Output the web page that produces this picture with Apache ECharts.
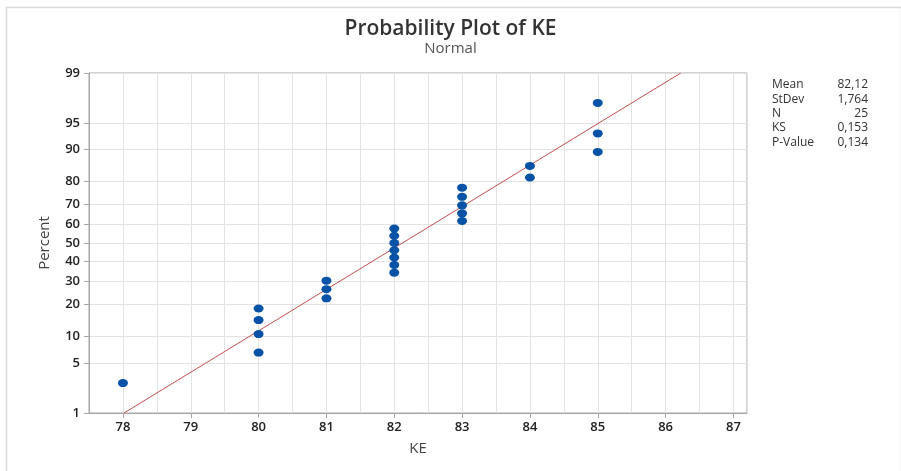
<!DOCTYPE html>
<html lang="en">
<head>
    <meta charset="UTF-8">
    <title>Probability Plot of KE</title>
    <script type="text/javascript" src="https://cdn.jsdelivr.net/npm/echarts@6.0.0/dist/echarts.min.js"></script>
    <style>
        html, body { margin: 0; padding: 0; background: #fff; }
    </style>
</head>
<body>
<div id="main" style="width:901px;height:471px;"></div>
</body>

<script>
    // KE readings, sorted, and their plotting positions (percent)
    const keValues = [78, 80, 80, 80, 80, 81, 81, 81, 82, 82, 82, 82, 82, 82, 82,
        83, 83, 83, 83, 83, 84, 84, 85, 85, 85];
    const percentValues = [2.76, 6.69, 10.63, 14.57, 18.50, 22.44, 26.38, 30.31, 34.25,
        38.19, 42.13, 46.06, 50.00, 53.94, 57.87, 61.81, 65.75, 69.69, 73.62, 77.56,
        81.50, 85.43, 89.37, 93.31, 97.24];
    const percentTicks = [1, 5, 10, 20, 30, 40, 50, 60, 70, 80, 90, 95, 99];
    const keTicks = [78, 79, 80, 81, 82, 83, 84, 85, 86, 87];
    const statNames = ['Mean', 'StDev', 'N', 'KS', 'P-Value'];
    const statValues = ['82,12', '1,764', '25', '0,153', '0,134'];
    const fitMean = 82.12;
    const fitSd = 1.764;

    // inverse normal cdf (Acklam) - used as the y scale
    function normInv(p) {
        const a = [-3.969683028665376e+01, 2.209460984245205e+02, -2.759285104469687e+02, 1.383577518672690e+02, -3.066479806614716e+01, 2.506628277459239e+00];
        const b = [-5.447609879822406e+01, 1.615858368580409e+02, -1.556989798598866e+02, 6.680131188771972e+01, -1.328068155288572e+01];
        const c = [-7.784894002430293e-03, -3.223964580411365e-01, -2.400758277161838e+00, -2.549732539343734e+00, 4.374664141464968e+00, 2.938163982698783e+00];
        const d = [7.784695709041462e-03, 3.224671290700398e-01, 2.445134137142996e+00, 3.754408661907416e+00];
        const pl = 0.02425;
        let q, r;
        if (p < pl) {
            q = Math.sqrt(-2 * Math.log(p));
            return (((((c[0] * q + c[1]) * q + c[2]) * q + c[3]) * q + c[4]) * q + c[5]) /
                ((((d[0] * q + d[1]) * q + d[2]) * q + d[3]) * q + 1);
        }
        if (p > 1 - pl) {
            q = Math.sqrt(-2 * Math.log(1 - p));
            return -(((((c[0] * q + c[1]) * q + c[2]) * q + c[3]) * q + c[4]) * q + c[5]) /
                ((((d[0] * q + d[1]) * q + d[2]) * q + d[3]) * q + 1);
        }
        q = p - 0.5;
        r = q * q;
        return (((((a[0] * r + a[1]) * r + a[2]) * r + a[3]) * r + a[4]) * r + a[5]) * q /
            (((((b[0] * r + b[1]) * r + b[2]) * r + b[3]) * r + b[4]) * r + 1);
    }

    const zTicks = percentTicks.map(p => normInv(p / 100));
    const zMin = zTicks[0];
    const zMax = zTicks[zTicks.length - 1];
    const points = keValues.map((v, i) => [v, normInv(percentValues[i] / 100)]);
    const fitLine = [[fitMean + fitSd * zMin, zMin], [fitMean + fitSd * zMax, zMax]];

    function percentLabel(z) {
        let best = 0;
        zTicks.forEach((t, i) => { if (Math.abs(t - z) < Math.abs(zTicks[best] - z)) best = i; });
        return String(percentTicks[best]);
    }

    const font = '"Open Sans", "Noto Sans", sans-serif';
    const myChart = echarts.init(document.getElementById('main'));

    const statText = [];
    statNames.forEach((n, i) => {
        statText.push({
            type: 'text', left: 772, top: 79 + i * 14.3,
            style: { text: n, font: '12px ' + font, fill: '#333' }
        });
        statText.push({
            type: 'text', right: 33, top: 79 + i * 14.3,
            style: { text: statValues[i], font: '12px ' + font, fill: '#333', textAlign: 'right' }
        });
    });

    const option = {
        animation: false,
        backgroundColor: '#fff',
        title: {
            text: 'Probability Plot of KE',
            subtext: 'Normal',
            left: 'center',
            top: 14,
            itemGap: 1,
            textStyle: { fontFamily: font, fontSize: 21, fontWeight: 600, color: '#333' },
            subtextStyle: { fontFamily: font, fontSize: 15, color: '#555' }
        },
        graphic: [
            {
                type: 'rect', left: 4, top: 5,
                shape: { width: 895, height: 480 },
                style: { fill: 'none', stroke: '#d9d9d9', lineWidth: 1.5 }
            }
        ].concat(statText),
        grid: {
            left: 89, right: 154, top: 73, bottom: 58,
            show: true, borderColor: '#a6a6a6', borderWidth: 1, backgroundColor: 'transparent'
        },
        xAxis: [
            {
                type: 'value', min: 77.5, max: 87.2, interval: 0.5,
                name: 'KE', nameLocation: 'middle', nameGap: 28,
                nameTextStyle: { fontFamily: font, fontSize: 15, color: '#444' },
                axisLine: { show: true, onZero: false, lineStyle: { color: '#a6a6a6' } },
                axisTick: { show: false },
                axisLabel: {
                    fontFamily: font, fontSize: 13, fontWeight: 600, color: '#222', margin: 8,
                    formatter: v => (Math.abs(v - Math.round(v)) < 1e-6 ? String(Math.round(v)) : '')
                },
                splitLine: { show: true, lineStyle: { color: '#e3e3e3' } }
            },
            {
                type: 'value', min: 77.5, max: 87.2, position: 'bottom',
                axisLine: { show: false, onZero: false },
                axisTick: { show: true, customValues: keTicks, length: 5, lineStyle: { color: '#a6a6a6' } },
                axisLabel: { show: false },
                splitLine: { show: false }
            }
        ],
        yAxis: [
            {
                type: 'value', min: zMin, max: zMax,
                name: 'Percent', nameLocation: 'middle', nameGap: 37,
                nameTextStyle: { fontFamily: font, fontSize: 15, color: '#444' },
                axisLine: { show: true, onZero: false, lineStyle: { color: '#a6a6a6' } },
                axisTick: { show: true, customValues: zTicks, length: 5, lineStyle: { color: '#a6a6a6' } },
                axisLabel: {
                    customValues: zTicks,
                    fontFamily: font, fontSize: 13, fontWeight: 600, color: '#222', margin: 9,
                    formatter: v => percentLabel(v)
                },
                splitLine: { show: true, lineStyle: { color: '#e3e3e3' } }
            }
        ],
        series: [
            {
                type: 'line',
                data: fitLine,
                symbol: 'none',
                lineStyle: { color: '#c0504d', width: 1 },
                z: 2
            },
            {
                type: 'scatter',
                data: points,
                symbol: 'circle',
                symbolSize: [10, 8],
                itemStyle: { color: '#0552a6', opacity: 1 },
                z: 3
            }
        ]
    };
    myChart.setOption(option);
</script>
</html>
